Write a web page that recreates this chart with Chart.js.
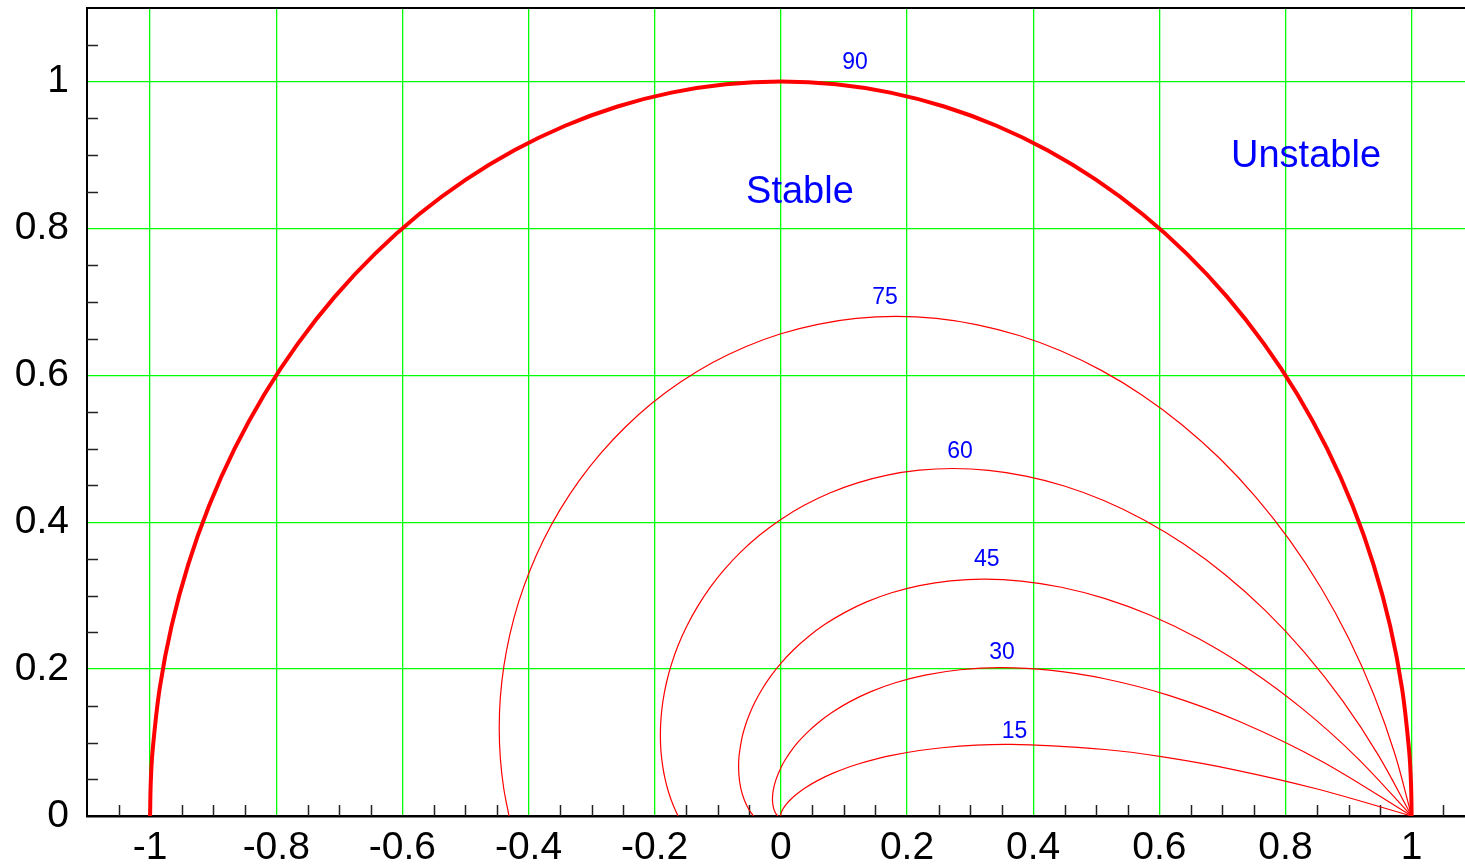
<!DOCTYPE html>
<html>
<head>
<meta charset="utf-8">
<script src="https://cdn.jsdelivr.net/npm/chart.js@4/dist/chart.umd.min.js"></script>
<style>
html,body{margin:0;padding:0;background:#ffffff;overflow:hidden}
canvas{display:block}
</style>
</head>
<body>
<canvas id="c" width="1465" height="865"></canvas>
<script>
// ---- tick labels ----
const xTickValues = [-1, -0.8, -0.6, -0.4, -0.2, 0, 0.2, 0.4, 0.6, 0.8, 1];
const yTickValues = [0, 0.2, 0.4, 0.6, 0.8, 1];

// ---- curves ----
const curve90X = [1, 0.999, 0.9962, 0.9848, 0.9659, 0.9397, 0.9063, 0.866, 0.8192, 0.766, 0.7071, 0.6428, 0.5736, 0.5, 0.4226, 0.342, 0.2588, 0.1736, 0.0872, 0,
  -0.0872, -0.1736, -0.2588, -0.342, -0.4226, -0.5, -0.5736, -0.6428, -0.7071, -0.766, -0.8192, -0.866, -0.9063, -0.9397, -0.9659, -0.9848, -0.9962, -0.999, -1];
const curve90Y = [0, 0.0436, 0.0872, 0.1736, 0.2588, 0.342, 0.4226, 0.5, 0.5736, 0.6428, 0.7071, 0.766, 0.8192, 0.866, 0.9063, 0.9397, 0.9659, 0.9848, 0.9962, 1,
  0.9962, 0.9848, 0.9659, 0.9397, 0.9063, 0.866, 0.8192, 0.766, 0.7071, 0.6428, 0.5736, 0.5, 0.4226, 0.342, 0.2588, 0.1736, 0.0872, 0.0436, 0];

const curve75X = [1, 0.9732, 0.9398, 0.9005, 0.8558, 0.8063, 0.7526, 0.6955, 0.6353, 0.5729, 0.5088, 0.4435, 0.3777, 0.3118, 0.2465, 0.1823, 0.1194, 0.0586, 0,
  -0.0559, -0.1088, -0.1584, -0.2045, -0.2468, -0.2853, -0.3197, -0.35, -0.3761, -0.398, -0.4158, -0.4294, -0.439, -0.4447, -0.4465, -0.4447, -0.4395, -0.4309];
const curve75Y = [0, 0.0851, 0.1657, 0.2413, 0.3115, 0.376, 0.4346, 0.487, 0.5331, 0.5729, 0.6063, 0.6334, 0.6541, 0.6687, 0.6774, 0.6802, 0.6774, 0.6694, 0.6565,
  0.6389, 0.617, 0.5911, 0.5618, 0.5293, 0.4941, 0.4566, 0.4171, 0.3761, 0.334, 0.2911, 0.2479, 0.2047, 0.1618, 0.1196, 0.0784, 0.0385, 0];

const curve60X = [1, 0.9472, 0.8904, 0.8304, 0.7682, 0.7045, 0.6401, 0.5757, 0.5119, 0.4493, 0.3884, 0.3295, 0.2731, 0.2195, 0.1689, 0.1215, 0.0775, 0.037, 0,
  -0.0335, -0.0634, -0.0898, -0.1129, -0.1326, -0.1492, -0.1628, -0.1734, -0.1814, -0.1869, -0.19, -0.191, -0.1901, -0.1874, -0.1832, -0.1776, -0.1708, -0.163];
const curve60Y = [0, 0.0829, 0.157, 0.2225, 0.2796, 0.3285, 0.3696, 0.4031, 0.4296, 0.4493, 0.4628, 0.4706, 0.4731, 0.4708, 0.4641, 0.4536, 0.4398, 0.423, 0.4038,
  0.3825, 0.3595, 0.3353, 0.3102, 0.2844, 0.2584, 0.2325, 0.2067, 0.1814, 0.1568, 0.1331, 0.1103, 0.0886, 0.0682, 0.0491, 0.0313, 0.015, 0];

const curve45X = [1, 0.9129, 0.8271, 0.7434, 0.6628, 0.5858, 0.513, 0.4447, 0.3811, 0.3224, 0.2686, 0.2196, 0.1755, 0.1359, 0.1008, 0.0699, 0.043, 0.0198, 0,
  -0.0166, -0.0303, -0.0414, -0.0501, -0.0568, -0.0616, -0.0665, -0.0665, -0.0632, -0.0576, -0.0507, -0.0432];
const curve45Y = [0, 0.0799, 0.1458, 0.1992, 0.2412, 0.2732, 0.2962, 0.3114, 0.3198, 0.3224, 0.3201, 0.3137, 0.3039, 0.2915, 0.2769, 0.2609, 0.2437, 0.226, 0.2079,
  0.1898, 0.1719, 0.1545, 0.1378, 0.1218, 0.1066, 0.0792, 0.0558, 0.0365, 0.021, 0.0089, 0];

const curve30X = [1, 0.8565, 0.7279, 0.6138, 0.5134, 0.4256, 0.3497, 0.2844, 0.2286, 0.1814, 0.1418, 0.1088, 0.0815, 0.0592, 0.0412, 0.0268, 0.0155, 0.0067, 0,
  -0.0084, -0.0123, -0.0133, -0.0126, -0.0111, -0.0093, -0.0075, -0.0058, -0.0043];
const curve30Y = [0, 0.0749, 0.1283, 0.1645, 0.1868, 0.1985, 0.2019, 0.1991, 0.1918, 0.1814, 0.169, 0.1554, 0.1412, 0.127, 0.1132, 0.1001, 0.0877, 0.0763, 0.0658,
  0.0479, 0.0338, 0.023, 0.0151, 0.0093, 0.0054, 0.0027, 0.001, 0];

const curve15X = [1, 0.8489, 0.7193, 0.6083, 0.5134, 0.3636, 0.2554, 0.1778, 0.1227, 0.0838, 0.0566, 0.0377, 0.0248, 0.0159, 0.01, 0.0061, 0.0036, 0.002, 0.0009, 0.0003, 0, 0];
const curve15Y = [0, 0.0371, 0.0629, 0.0801, 0.0905, 0.0974, 0.0929, 0.0829, 0.0708, 0.0587, 0.0475, 0.0377, 0.0295, 0.0228, 0.0174, 0.0131, 0.0098, 0.0073, 0.0054, 0.0039, 0.0028, 0];

// ---- annotations ----
const curveLabels = ['90', '75', '60', '45', '30', '15'];
const curveLabelX = [0.1176, 0.165, 0.284, 0.3264, 0.3507, 0.3705];
const curveLabelY = [1.0163, 0.697, 0.4873, 0.3406, 0.2135, 0.1059];
const regionLabels = ['Stable', 'Unstable'];
const regionLabelX = [-0.0552, 0.7137];
const regionLabelY = [0.8351, 0.8842];

// ---- build ----
const FONT = '"Liberation Sans", Arial, Helvetica, sans-serif';
const toPts = (xs, ys) => xs.map((x, i) => ({x: x, y: ys[i]}));
const series = [
  {label: '90', data: toPts(curve90X, curve90Y), borderWidth: 4},
  {label: '75', data: toPts(curve75X, curve75Y)},
  {label: '60', data: toPts(curve60X, curve60Y)},
  {label: '45', data: toPts(curve45X, curve45Y)},
  {label: '30', data: toPts(curve30X, curve30Y)},
  {label: '15', data: toPts(curve15X, curve15Y)}
].map(d => Object.assign({
  borderColor: '#ff0000', backgroundColor: '#ff0000', showLine: true,
  pointRadius: 0, pointHoverRadius: 0, tension: 0.35, cubicInterpolationMode: 'default',
  fill: false, borderWidth: 1.2
}, d));

const fmt = v => String(Math.round(v * 10) / 10);

const decor = {
  id: 'decor',
  beforeDatasetsDraw(chart) {
    const {ctx, chartArea: a, scales: {x, y}} = chart;
    ctx.save();
    ctx.strokeStyle = '#222';
    ctx.lineWidth = 1.5;
    ctx.beginPath();
    for (let i = -21; i <= 21; i++) {
      if (i % 4 === 0) continue;
      const px = Math.round(x.getPixelForValue(i * 0.05)) + 0.5;
      ctx.moveTo(px, a.bottom);
      ctx.lineTo(px, a.bottom - 11);
    }
    for (let i = 1; i <= 21; i++) {
      if (i % 4 === 0) continue;
      const py = Math.round(y.getPixelForValue(i * 0.05)) + 0.5;
      ctx.moveTo(a.left, py);
      ctx.lineTo(a.left + 11, py);
    }
    ctx.stroke();
    ctx.restore();
  },
  afterDatasetsDraw(chart) {
    const {ctx, chartArea: a, scales: {x, y}} = chart;
    ctx.save();
    ctx.strokeStyle = '#000';
    ctx.lineWidth = 2;
    ctx.beginPath();
    ctx.moveTo(a.left, a.top);
    ctx.lineTo(chart.width, a.top);
    ctx.stroke();
    ctx.fillStyle = '#0000ff';
    ctx.textBaseline = 'alphabetic';
    ctx.textAlign = 'center';
    ctx.font = '23px ' + FONT;
    curveLabels.forEach((t, i) => {
      ctx.fillText(t, x.getPixelForValue(curveLabelX[i]), y.getPixelForValue(curveLabelY[i]));
    });
    ctx.textAlign = 'left';
    ctx.font = '38px ' + FONT;
    regionLabels.forEach((t, i) => {
      ctx.fillText(t, x.getPixelForValue(regionLabelX[i]), y.getPixelForValue(regionLabelY[i]));
    });
    ctx.restore();
  }
};

new Chart(document.getElementById('c'), {
  type: 'line',
  data: {datasets: series},
  options: {
    responsive: false,
    animation: false,
    devicePixelRatio: 1,
    layout: {padding: {top: 8, left: 0, right: 0, bottom: 0}},
    plugins: {legend: {display: false}, tooltip: {enabled: false}},
    scales: {
      x: {
        type: 'linear', min: -1.1, max: 1.0846,
        afterBuildTicks: s => { s.ticks = xTickValues.map(v => ({value: v})); },
        afterFit: s => { s.height = 49; s.paddingLeft = 0; s.paddingRight = 0; },
        grid: {color: '#00ff00', lineWidth: 1.3, drawTicks: false},
        border: {display: true, color: '#000', width: 2.5},
        ticks: {autoSkip: false, maxRotation: 0, minRotation: 0, padding: 9, color: '#000',
                font: {family: FONT, size: 39}, callback: v => fmt(v)}
      },
      y: {
        type: 'linear', min: 0, max: 1.1,
        afterBuildTicks: s => { s.ticks = yTickValues.map(v => ({value: v})); },
        afterFit: s => { s.width = 87; s.paddingTop = 0; s.paddingBottom = 0; },
        grid: {color: '#00ff00', lineWidth: 1.3, drawTicks: false},
        border: {display: true, color: '#000', width: 2},
        ticks: {autoSkip: false, padding: 18, color: '#000',
                font: {family: FONT, size: 39}, callback: v => fmt(v)}
      }
    }
  },
  plugins: [decor]
});
</script>
</body>
</html>
